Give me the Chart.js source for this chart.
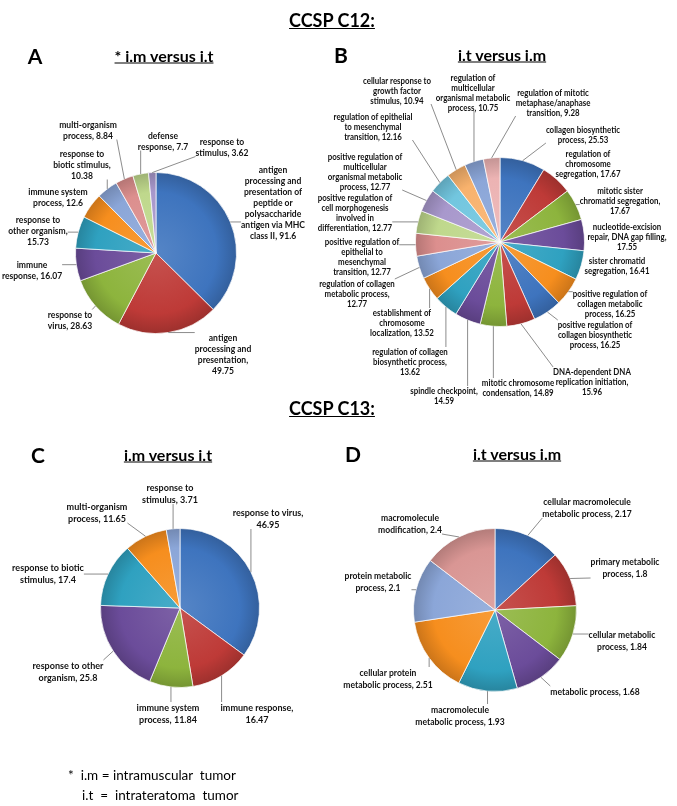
<!DOCTYPE html>
<html>
<head>
<meta charset="utf-8">
<script src="https://cdn.jsdelivr.net/npm/chart.js@4.4.1/dist/chart.umd.min.js"></script>
<style>
  body { margin: 0; background: #fff; }
  #page { position: relative; width: 677px; height: 806px; overflow: hidden; font-family: Lato, "Open Sans", sans-serif; color: #000; }
  canvas { position: absolute; left: 0; top: 0; }
  .t { position: absolute; white-space: nowrap; font-weight: bold; transform: translate(-50%, -50%); }
  .big { font-size: 18px; text-decoration: underline; }
  .sub { font-size: 16px; text-decoration: underline; }
  .letter { font-size: 21px; }
  .note { position: absolute; font-size: 13.5px; white-space: pre; transform: translateY(-50%); }
</style>
</head>
<body>
<div id="page">
  <canvas id="pieA" width="677" height="806"></canvas>
  <canvas id="pieB" width="677" height="806"></canvas>
  <canvas id="pieC" width="677" height="806"></canvas>
  <canvas id="pieD" width="677" height="806"></canvas>

  <div class="t big" style="left:332px; top:20px;">CCSP C12:</div>
  <div class="t letter" style="left:35px; top:55px;">A</div>
  <div class="t sub" style="left:164px; top:55px;">* i.m versus i.t</div>
  <div class="t letter" style="left:341px; top:54px;">B</div>
  <div class="t sub" style="left:502px; top:54px;">i.t versus i.m</div>

  <div class="t big" style="left:332px; top:408px;">CCSP C13:</div>
  <div class="t letter" style="left:38px; top:454px;">C</div>
  <div class="t sub" style="left:168px; top:454px;">i.m versus i.t</div>
  <div class="t letter" style="left:353px; top:453px;">D</div>
  <div class="t sub" style="left:517px; top:453px;">i.t versus i.m</div>

  <div class="note" style="left:68px; top:775px;">*  i.m = intramuscular  tumor</div>
  <div class="note" style="left:82px; top:795px;">i.t  =  intrateratoma  tumor</div>
</div>

<script>
// panel A: CCSP C12, i.m versus i.t
const aCategories = ['antigen processing and presentation of peptide or polysaccharide antigen via MHC class II',
  'antigen processing and presentation', 'response to virus', 'immune response',
  'response to other organism', 'immune system process', 'response to biotic stimulus',
  'multi-organism process', 'defense response', 'response to stimulus'];
const aValues = [91.6, 49.75, 28.63, 16.07, 15.73, 12.6, 10.38, 8.84, 7.7, 3.62];

// panel B: CCSP C12, i.t versus i.m
const bCategories = ['collagen biosynthetic process', 'regulation of chromosome segregation',
  'mitotic sister chromatid segregation', 'nucleotide-excision repair, DNA gap filling',
  'sister chromatid segregation', 'positive regulation of collagen metabolic process',
  'positive regulation of collagen biosynthetic process', 'DNA-dependent DNA replication initiation',
  'mitotic chromosome condensation', 'spindle checkpoint', 'regulation of collagen biosynthetic process',
  'establishment of chromosome localization', 'regulation of collagen metabolic process',
  'positive regulation of epithelial to mesenchymal transition',
  'positive regulation of cell morphogenesis involved in differentiation',
  'positive regulation of multicellular organismal metabolic process',
  'regulation of epithelial to mesenchymal transition', 'cellular response to growth factor stimulus',
  'regulation of multicellular organismal metabolic process',
  'regulation of mitotic metaphase/anaphase transition'];
const bValues = [25.53, 17.67, 17.67, 17.55, 16.41, 16.25, 16.25, 15.96, 14.89, 14.59,
  13.62, 13.52, 12.77, 12.77, 12.77, 12.77, 12.16, 10.94, 10.75, 9.28];

// panel C: CCSP C13, i.m versus i.t
const cCategories = ['response to virus', 'immune response', 'immune system process',
  'response to other organism', 'response to biotic stimulus', 'multi-organism process',
  'response to stimulus'];
const cValues = [46.95, 16.47, 11.84, 25.8, 17.4, 11.65, 3.71];

// panel D: CCSP C13, i.t versus i.m
const dCategories = ['cellular macromolecule metabolic process', 'primary metabolic process',
  'cellular metabolic process', 'metabolic process', 'macromolecule metabolic process',
  'cellular protein metabolic process', 'protein metabolic process', 'macromolecule modification'];
const dValues = [2.17, 1.8, 1.84, 1.68, 1.93, 2.51, 2.1, 2.4];

// colours
const BLUE = '#3e74be', RED = '#be3a37', GREEN = '#8db43d', PURPLE = '#6b4c9a',
  CYAN = '#2fa1c0', ORANGE = '#f68e1e', LBLUE = '#8ba6d8', PINK = '#dc8f8e',
  LGREEN = '#bfd88c', LAV = '#a898cc', LCYAN = '#72c6df', LORANGE = '#f8b26d', LPINK = '#ecb3b3';

const aColors = [BLUE, RED, GREEN, PURPLE, CYAN, ORANGE, LBLUE, PINK, LGREEN, LAV];
const bColors = [BLUE, RED, GREEN, PURPLE, CYAN, ORANGE, BLUE, RED, GREEN, PURPLE, CYAN, ORANGE,
  LBLUE, PINK, LGREEN, LAV, LCYAN, LORANGE, LBLUE, LPINK];
const cColors = [BLUE, RED, GREEN, PURPLE, CYAN, ORANGE, LBLUE];
const dColors = [BLUE, RED, GREEN, PURPLE, CYAN, ORANGE, LBLUE, '#d99694'];

// label layout: [centre x, y of first line, words per line]
const aLabelPos = [[273, 170, [1,2,2,2,1,3,3]], [223, 338, [1,2,1,1]], [70, 315, [2,2]], [32, 265, [1,2]],
  [38, 220, [2,2,1]], [58, 192, [2,2]], [82, 154, [2,2,1]], [88, 125, [1,2]], [163, 136, [1,2]], [222, 142, [2,2]]];
const bLabelPos = [[583, 130, [2,2]], [588, 154, [2,1,2]], [620, 191, [2,2,1]], [627, 227, [1,4,1]],
  [617, 261, [2,2]], [610, 294, [3,2,2]], [595, 325, [3,2,2]], [592, 372, [2,2,1]], [518, 383, [2,2]],
  [444, 391, [2,1]], [410, 352, [3,2,1]], [402, 313, [2,1,2]], [357, 284, [3,2,1]], [362, 242, [3,2,1,2]],
  [355, 198, [3,2,2,2]], [365, 157, [3,1,2,2]], [373, 117, [3,2,2]], [397, 81, [3,2,2]],
  [473, 78, [2,1,2,2]], [553, 93, [3,1,2]]];
const cLabelPos = [[268, 513, [3,1]], [257, 708, [2,1]], [168, 708, [2,2]], [68, 666, [3,2]],
  [48, 568, [3,2]], [97, 507, [1,2]], [170, 488, [2,2]]];
const dLabelPos = [[587, 502, [2,3]], [625, 562, [2,2]], [622, 635, [2,2]], [595, 692, [3]],
  [460, 710, [1,3]], [388, 673, [2,3]], [378, 576, [2,2]], [410, 518, [1,2]]];

function shade(hex, amt) {
  let n = parseInt(hex.slice(1), 16);
  let r = n >> 16, g = (n >> 8) & 255, b = n & 255;
  const f = c => Math.round(amt >= 0 ? c + (255 - c) * amt : c * (1 + amt));
  return `rgb(${f(r)},${f(g)},${f(b)})`;
}

// draws the wrapped labels and their leader lines
const sliceLabels = {
  id: 'sliceLabels',
  afterDraw(chart, args, opts) {
    const ctx = chart.ctx;
    const meta = chart.getDatasetMeta(0);
    const values = chart.data.datasets[0].data;
    const lh = opts.lineHeight, sx = opts.squeeze;
    ctx.save();
    ctx.font = opts.font;
    ctx.textAlign = 'center';
    ctx.textBaseline = 'middle';
    meta.data.forEach((arc, i) => {
      const [lx, ly, wrap] = opts.pos[i];
      const words = (chart.data.labels[i] + ', ' + values[i]).split(' ');
      let lines = [], k = 0;
      wrap.forEach(n => { lines.push(words.slice(k, k + n).join(' ')); k += n; });
      const w = Math.max(...lines.map(l => ctx.measureText(l).width)) * sx;
      const x1 = lx - w / 2, x2 = lx + w / 2;
      const y1 = ly - lh / 2, y2 = ly + (lines.length - 1) * lh + lh / 2 - 2;
      const p = arc.getProps(['x', 'y', 'startAngle', 'endAngle', 'outerRadius'], true);
      const mid = (p.startAngle + p.endAngle) / 2;
      const px = p.x + Math.cos(mid) * p.outerRadius;
      const py = p.y + Math.sin(mid) * p.outerRadius;
      const qx = Math.min(Math.max(px, x1), x2);
      const qy = Math.min(Math.max(py, y1), y2);
      if (Math.hypot(qx - px, qy - py) > 4) {
        ctx.strokeStyle = '#7f7f7f';
        ctx.lineWidth = 0.9;
        ctx.beginPath();
        ctx.moveTo(px, py);
        ctx.lineTo(qx, qy);
        ctx.stroke();
      }
      ctx.fillStyle = '#111';
      lines.forEach((l, j) => {
        ctx.save();
        ctx.translate(lx, ly + j * lh);
        ctx.scale(sx, 1);
        ctx.fillText(l, 0, 0);
        ctx.restore();
      });
    });
    ctx.restore();
  }
};

function makePie(id, categories, values, colors, labelPos, cx, cy, r, lineHeight, squeeze) {
  new Chart(document.getElementById(id), {
    type: 'pie',
    data: {
      labels: categories,
      datasets: [{
        data: values,
        backgroundColor: (c) => {
          const base = colors[c.dataIndex];
          const area = c.chart.chartArea;
          if (!area) return base;
          const g = c.chart.ctx.createRadialGradient(cx, cy, 0, cx, cy, r);
          g.addColorStop(0, shade(base, 0.12));
          g.addColorStop(0.75, base);
          g.addColorStop(1, shade(base, -0.18));
          return g;
        },
        borderColor: 'rgba(255,255,255,0.7)',
        borderWidth: 1
      }]
    },
    options: {
      responsive: false,
      animation: false,
      events: [],
      layout: { padding: { left: cx - r, top: cy - r, right: 677 - cx - r, bottom: 806 - cy - r } },
      plugins: {
        legend: { display: false },
        tooltip: { enabled: false },
        sliceLabels: { pos: labelPos, font: 'bold 9.5px Lato', lineHeight: lineHeight, squeeze: squeeze }
      }
    },
    plugins: [sliceLabels]
  });
}

makePie('pieA', aCategories, aValues, aColors, aLabelPos, 156, 253, 81, 11, 0.9);
makePie('pieB', bCategories, bValues, bColors, bLabelPos, 500, 242, 85, 10, 0.83);
makePie('pieC', cCategories, cValues, cColors, cLabelPos, 180, 608, 80, 12, 0.95);
makePie('pieD', dCategories, dValues, dColors, dLabelPos, 495, 610, 82, 12, 0.9);
</script>
</body>
</html>
